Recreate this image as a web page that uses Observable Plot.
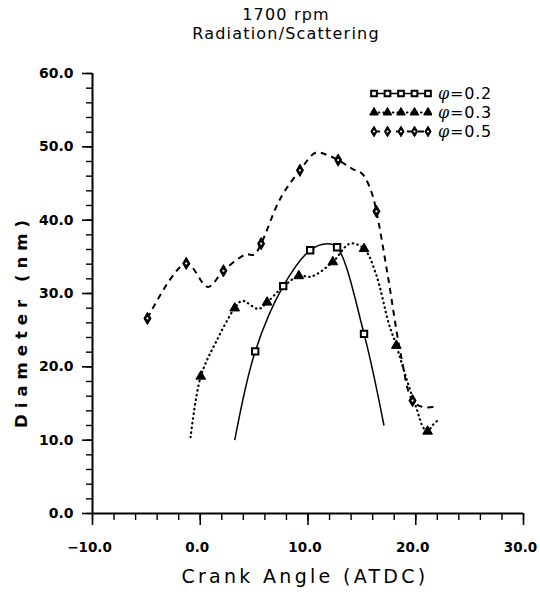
<!DOCTYPE html>
<html><head><meta charset="utf-8">
<script src="https://cdn.jsdelivr.net/npm/d3@7"></script>
<script src="https://cdn.jsdelivr.net/npm/@observablehq/plot@0.6"></script>
<style>
body{margin:0;background:#fff;font-family:"DejaVu Sans",sans-serif;color:#000;}
#wrap{position:relative;width:540px;height:596px;overflow:hidden;}
#title{position:absolute;left:136px;width:300px;top:5px;text-align:center;font-size:16px;line-height:19px;letter-spacing:1.2px;}
#plot{position:absolute;left:0;top:50px;}
#xlab{position:absolute;left:105px;width:400px;top:565px;text-align:center;font-size:19px;letter-spacing:3.3px;}
#ylab{position:absolute;left:21px;top:321px;transform:translate(-50%,-50%) rotate(-90deg);white-space:nowrap;font-size:16.5px;font-weight:bold;letter-spacing:6px;}
#legend{position:absolute;left:368px;top:84px;}
.row{height:19px;display:flex;align-items:center;}
.row span{font-size:16px;margin-left:6px;letter-spacing:0.8px;}
.row i{font-family:"DejaVu Serif",serif;}
</style></head>
<body><div id="wrap">
<div id="title">1700 rpm<br>Radiation/Scattering</div>
<div id="plot"></div>
<div id="ylab">Diameter&nbsp;(nm)</div>
<div id="xlab">Crank Angle (ATDC)</div>
<div id="legend"></div>
</div>
<script>
// ---- data ----
const seriesNames = ["φ=0.2", "φ=0.3", "φ=0.5"];
// markers
const angle02 = [5.1, 7.7, 10.2, 12.7, 15.2];
const dia02   = [22.1, 31.0, 35.9, 36.3, 24.5];
const angle03 = [0.05, 3.2, 6.2, 9.15, 12.3, 15.2, 18.2, 21.1];
const dia03   = [18.7, 28.0, 28.8, 32.4, 34.3, 36.1, 22.9, 11.2];
const angle05 = [-4.9, -1.3, 2.15, 5.65, 9.25, 12.8, 16.35, 19.7];
const dia05   = [26.6, 34.1, 33.1, 36.8, 46.8, 48.2, 41.2, 15.4];
// drawn curves (vertices)
const curveX02 = [3.2, 5.1, 7.7, 10.2, 11.8, 12.7, 15.2, 17.05];
const curveY02 = [10.0, 22.1, 31.0, 35.9, 36.8, 36.3, 24.5, 12.0];
const curveX03 = [-0.9, 0.05, 1.5, 3.2, 3.9, 5.4, 6.2, 7.6, 9.15, 10.3, 12.3, 13.9, 15.2, 16.3, 17.5, 18.2, 19.2, 20.1, 20.7, 21.1, 21.6, 22.05];
const curveY03 = [10.4, 18.7, 23.5, 28.0, 29.0, 27.9, 28.8, 30.8, 32.4, 32.3, 34.3, 36.8, 36.1, 32.7, 25.9, 22.9, 18.1, 14.2, 11.7, 11.2, 12.1, 12.7];
const curveX05 = [-4.9, -1.3, 0.7, 2.15, 4.2, 5.0, 5.65, 7.45, 9.25, 10.7, 11.6, 12.8, 14.1, 15.05, 15.9, 16.35, 17.4, 18.6, 19.7, 20.7, 22.0];
const curveY05 = [26.6, 34.1, 30.9, 33.1, 35.3, 35.3, 36.8, 43.0, 46.8, 49.2, 49.0, 48.2, 47.0, 46.3, 43.8, 41.2, 32.5, 21.8, 15.4, 14.5, 14.6];
// axes
const xDomain = [-10, 30];
const yDomain = [0, 60];
const xMajor = [-10, 0, 10, 20, 30];
const yMajor = [0, 10, 20, 30, 40, 50, 60];
const xMinor = d3.range(-10, 30.1, 2);
const yMinor = d3.range(0, 60.1, 2);

const zip = (xs, ys) => xs.map((x, i) => ({x, y: ys[i]}));
const styles = [
  {symbol: "square", r: 3.6, fill: "white", sw: 2, dash: null, lw: 1.5, cap: "butt", dot: 0},
  {symbol: "triangle", r: 3.6, fill: "black", sw: 1, dash: "0.5,4.2", lw: 2.2, cap: "round", dot: 0},
  {symbol: "diamond", r: 3.7, fill: "black", sw: 1, dash: "6,5", lw: 2, cap: "butt", dot: 1.1}
];
const markers = [zip(angle02, dia02), zip(angle03, dia03), zip(angle05, dia05)];
const curves = [zip(curveX02, curveY02), zip(curveX03, curveY03), zip(curveX05, curveY05)];

const fmt = d3.format(".1f");
const marks = [];
curves.forEach((c, i) => {
  const s = styles[i];
  marks.push(Plot.line(c, {x: "x", y: "y", curve: "catmull-rom", stroke: "black", strokeWidth: s.lw,
    strokeDasharray: s.dash, strokeLinecap: s.cap}));
});
markers.forEach((m, i) => {
  const s = styles[i];
  marks.push(Plot.dot(m, {x: "x", y: "y", symbol: () => s.symbol, r: s.r, fill: s.fill, stroke: "black", strokeWidth: s.sw}));
  if (s.dot) marks.push(Plot.dot(m, {x: "x", y: "y", r: s.dot, fill: "white"}));
});

const chart = Plot.plot({
  width: 540, height: 546,
  marginTop: 23, marginBottom: 83, marginLeft: 92, marginRight: 17,
  style: {background: "white", color: "black", overflow: "visible"},
  x: {domain: xDomain, axis: null},
  y: {domain: yDomain, axis: null},
  symbol: {type: "identity"},
  marks: [
    Plot.axisX({ticks: xMinor, tickSize: 7, tickFormat: () => "", label: null, strokeWidth: 1.4}),
    Plot.axisX({ticks: xMajor, tickSize: 12, tickFormat: () => "", label: null, strokeWidth: 1.6}),
    Plot.axisX({ticks: xMajor, tickSize: 0, tickPadding: 29, tickFormat: fmt, label: null,
      fontSize: 13.5, fontWeight: "bold", fontFamily: "DejaVu Sans", dx: -3}),
    Plot.axisY({ticks: yMinor, tickSize: 6, tickFormat: () => "", label: null, strokeWidth: 1.4}),
    Plot.axisY({ticks: yMajor, tickSize: 10, tickPadding: 9, tickFormat: fmt, label: null, strokeWidth: 1.6,
      fontSize: 14, fontWeight: "bold", fontFamily: "DejaVu Sans"}),
    Plot.ruleX([xDomain[0]], {y1: yDomain[0], y2: yDomain[1], strokeWidth: 2}),
    Plot.ruleY([yDomain[0]], {x1: xDomain[0], x2: xDomain[1], strokeWidth: 2}),
    ...marks
  ]
});
document.getElementById("plot").appendChild(chart);

// legend
const leg = d3.select("#legend");
seriesNames.forEach((name, i) => {
  const s = styles[i];
  const row = leg.append("div").attr("class", "row");
  const svg = row.append("svg").attr("width", 64).attr("height", 19);
  const xs = [6, 19.5, 33, 46.5, 60];
  svg.append("line").attr("x1", 6).attr("x2", 60).attr("y1", 9.5).attr("y2", 9.5)
    .attr("stroke", "black").attr("stroke-width", s.lw).attr("stroke-dasharray", s.dash)
    .attr("stroke-linecap", s.cap);
  const sym = {square: d3.symbolSquare, triangle: d3.symbolTriangle, diamond: d3.symbolDiamond}[s.symbol];
  xs.forEach(x => {
    svg.append("path").attr("transform", `translate(${x},9.5)`)
      .attr("d", d3.symbol(sym, Math.PI * 3.2 * 3.2)()).attr("fill", s.fill).attr("stroke", "black").attr("stroke-width", s.sw);
    if (s.dot) svg.append("circle").attr("cx", x).attr("cy", 9.5).attr("r", s.dot).attr("fill", "white");
  });
  row.append("span").html(`<i>φ</i>=${name.split("=")[1]}`);
});
</script>
</body></html>
